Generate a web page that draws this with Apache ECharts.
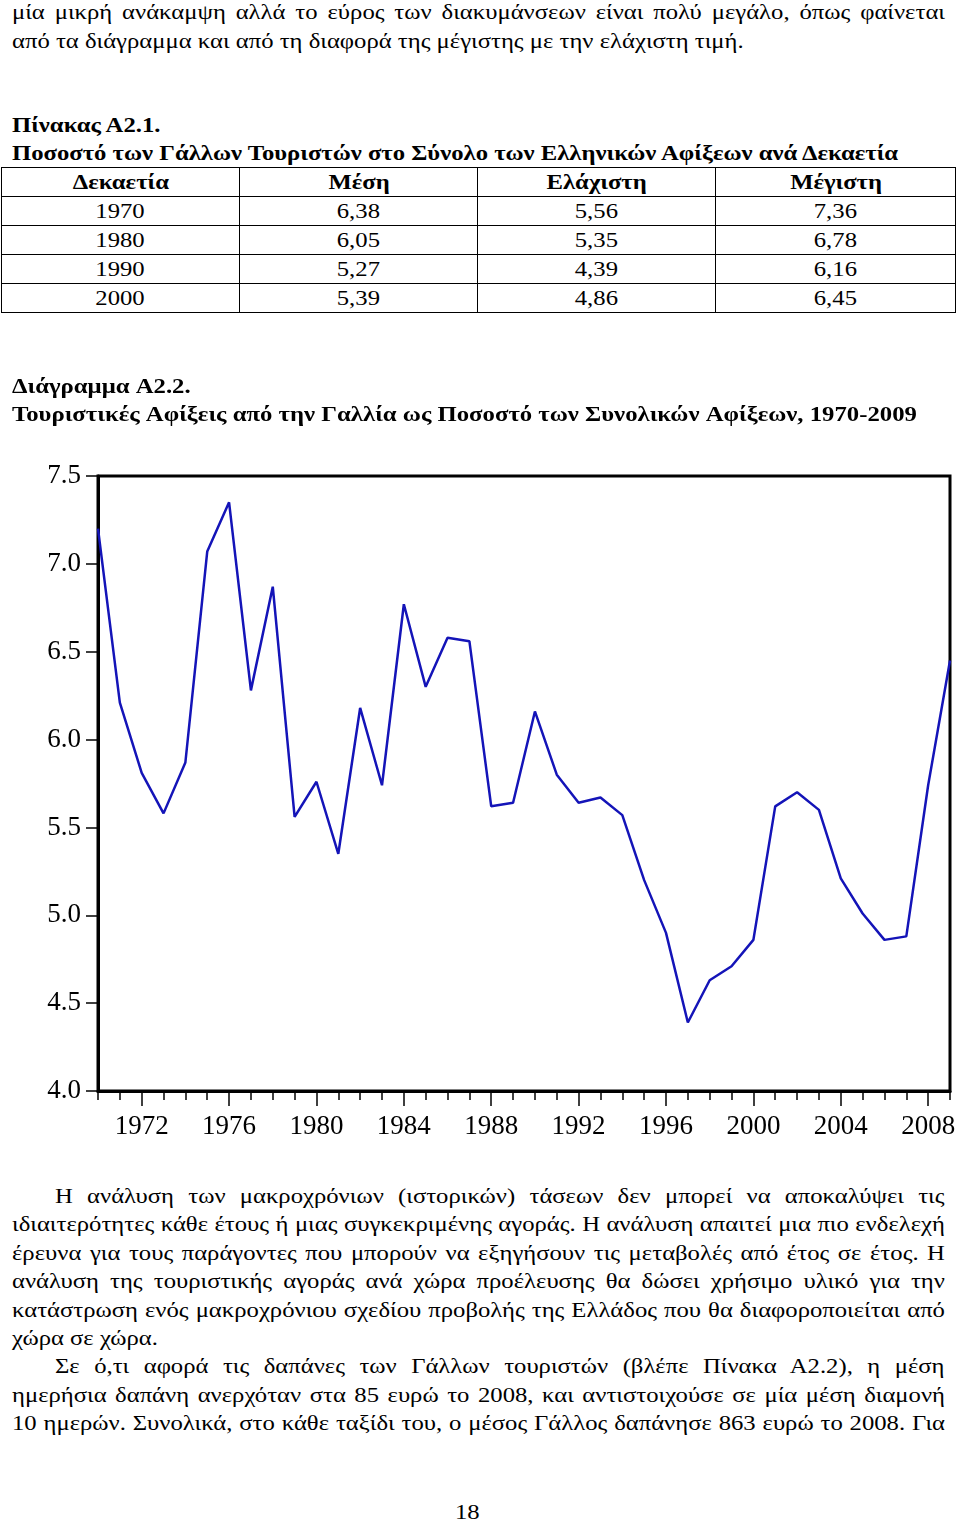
<!DOCTYPE html>
<html>
<head>
<meta charset="utf-8">
<script src="https://cdn.jsdelivr.net/npm/echarts@6/dist/echarts.min.js"></script>
<style>
html,body{margin:0;padding:0;background:#fff;}
body{width:960px;height:1521px;position:relative;overflow:hidden;font-family:"Liberation Serif","Times New Roman",serif;color:#000;}
.ln{position:absolute;left:12px;width:794px;height:28px;line-height:28px;font-size:21px;white-space:nowrap;transform:scaleX(1.175);transform-origin:0 0;}
.ind{left:55px;width:757px;}
.j{text-align:justify;text-align-last:justify;}
.b{font-weight:bold;}
table{position:absolute;left:1px;top:167px;width:955px;border-collapse:collapse;font-size:21px;}
td,th{border:1.5px solid #000;height:28px;padding:0;text-align:center;line-height:28px;}
th{font-weight:bold;}
td span,th span{display:inline-block;transform:scaleX(1.175);}
#chart{position:absolute;left:0;top:360px;width:960px;height:800px;}
</style>
</head>
<body>
<div class="ln j" style="top:-2px">μία μικρή ανάκαμψη αλλά το εύρος των διακυμάνσεων είναι πολύ μεγάλο, όπως φαίνεται</div>
<div class="ln" style="top:27px">από τα διάγραμμα και από τη διαφορά της μέγιστης με την ελάχιστη τιμή.</div>
<div class="ln b" style="top:111px">Πίνακας Α2.1.</div>
<div class="ln b" style="top:139px">Ποσοστό των Γάλλων Τουριστών στο Σύνολο των Ελληνικών Αφίξεων ανά Δεκαετία</div>
<table id="tbl"></table>
<div id="chart"></div>
<div class="ln j ind" style="top:1182px">Η ανάλυση των μακροχρόνιων (ιστορικών) τάσεων δεν μπορεί να αποκαλύψει τις</div>
<div class="ln j" style="top:1210px">ιδιαιτερότητες κάθε έτους ή μιας συγκεκριμένης αγοράς. Η ανάλυση απαιτεί μια πιο ενδελεχή</div>
<div class="ln j" style="top:1239px">έρευνα για τους παράγοντες που μπορούν να εξηγήσουν τις μεταβολές από έτος σε έτος. Η</div>
<div class="ln j" style="top:1267px">ανάλυση της τουριστικής αγοράς ανά χώρα προέλευσης θα δώσει χρήσιμο υλικό για την</div>
<div class="ln j" style="top:1296px">κατάστρωση ενός μακροχρόνιου σχεδίου προβολής της Ελλάδος που θα διαφοροποιείται από</div>
<div class="ln" style="top:1324px">χώρα σε χώρα.</div>
<div class="ln j ind" style="top:1352px">Σε ό,τι αφορά τις δαπάνες των Γάλλων τουριστών (βλέπε Πίνακα Α2.2), η μέση</div>
<div class="ln j" style="top:1381px">ημερήσια δαπάνη ανερχόταν στα 85 ευρώ το 2008, και αντιστοιχούσε σε μία μέση διαμονή</div>
<div class="ln j" style="top:1409px">10 ημερών. Συνολικά, στο κάθε ταξίδι του, ο μέσος Γάλλος δαπάνησε 863 ευρώ το 2008. Για</div>
<div class="ln" style="top:1498px;left:455px;width:40px">18</div>
<script>
// Table A2.1 data
var tableHeaders = ["Δεκαετία", "Μέση", "Ελάχιστη", "Μέγιστη"];
var decades = ["1970", "1980", "1990", "2000"];
var decadeMean = ["6,38", "6,05", "5,27", "5,39"];
var decadeMin = ["5,56", "5,35", "4,39", "4,86"];
var decadeMax = ["7,36", "6,78", "6,16", "6,45"];

// Chart A2.2 data
var chartTitle = "Διάγραμμα Α2.2.";
var chartSubtitle = "Τουριστικές Αφίξεις από την Γαλλία ως Ποσοστό των Συνολικών Αφίξεων, 1970-2009";
var years = [];
for (var y = 1970; y <= 2009; y++) years.push(String(y));
var shares = [
  7.20, 6.21, 5.81, 5.58, 5.87, 7.07, 7.35, 6.28, 6.87, 5.56,
  5.76, 5.35, 6.18, 5.74, 6.77, 6.30, 6.58, 6.56, 5.62, 5.64,
  6.16, 5.80, 5.64, 5.67, 5.57, 5.20, 4.90, 4.39, 4.63, 4.71,
  4.86, 5.62, 5.70, 5.60, 5.21, 5.01, 4.86, 4.88, 5.74, 6.45
];

// build table
function cell(tag, t){ return '<' + tag + '><span>' + t + '</span></' + tag + '>'; }
var tbl = document.getElementById('tbl');
var html = '<tr>' + tableHeaders.map(function(h){return cell('th', h);}).join('') + '</tr>';
for (var i = 0; i < decades.length; i++) {
  html += '<tr>' + cell('td', decades[i]) + cell('td', decadeMean[i]) + cell('td', decadeMin[i]) + cell('td', decadeMax[i]) + '</tr>';
}
tbl.innerHTML = html;
var cols = [238, 239, 238, 240];
var c = tbl.rows[0].cells;
for (var k = 0; k < 4; k++) c[k].style.width = cols[k] + 'px';

var FONT = '"Liberation Serif","Times New Roman",serif';
var chart = echarts.init(document.getElementById('chart'), null, {renderer: 'canvas'});
chart.setOption({
  animation: false,
  backgroundColor: '#fff',
  graphic: [{
    type: 'text', left: 12, top: 17, scaleX: 1.178, scaleY: 1, originX: 0, originY: 0,
    style: {text: chartTitle, fill: '#000', font: 'bold 21px ' + FONT}
  }, {
    type: 'text', left: 12, top: 45, scaleX: 1.178, scaleY: 1, originX: 0, originY: 0,
    style: {text: chartSubtitle, fill: '#000', font: 'bold 21px ' + FONT}
  }],
  grid: {left: 98, right: 10, top: 116, bottom: 69, show: true, borderColor: '#000', borderWidth: 3, backgroundColor: 'transparent'},
  xAxis: [{
    type: 'category', data: years, boundaryGap: false,
    axisLine: {lineStyle: {color: '#000', width: 3}},
    axisTick: {show: true, interval: 0, length: 9, lineStyle: {color: '#000', width: 1.5}},
    axisLabel: {
      interval: function(idx){ return idx % 4 === 2; },
      fontFamily: FONT, fontSize: 27, color: '#000', margin: 22
    },
    splitLine: {show: false}
  }, {
    type: 'category', data: years, boundaryGap: false, position: 'bottom',
    axisLine: {show: false},
    axisTick: {show: true, interval: function(idx){ return idx % 4 === 2; }, length: 15, lineStyle: {color: '#000', width: 1.5}},
    axisLabel: {show: false},
    splitLine: {show: false}
  }],
  yAxis: {
    type: 'value', min: 4, max: 7.5, interval: 0.5,
    axisLine: {show: true, lineStyle: {color: '#000', width: 3}},
    axisTick: {show: true, length: 12, lineStyle: {color: '#000', width: 1.5}},
    axisLabel: {fontFamily: FONT, fontSize: 27, color: '#000', margin: 17,
      formatter: function(v){ return v.toFixed(1); }},
    splitLine: {show: false}
  },
  series: [{
    type: 'line', data: shares, xAxisIndex: 0,
    showSymbol: false, symbol: 'none',
    lineStyle: {color: '#1414b8', width: 2.5},
    itemStyle: {color: '#1414b8'}
  }]
});
</script>
</body>
</html>
